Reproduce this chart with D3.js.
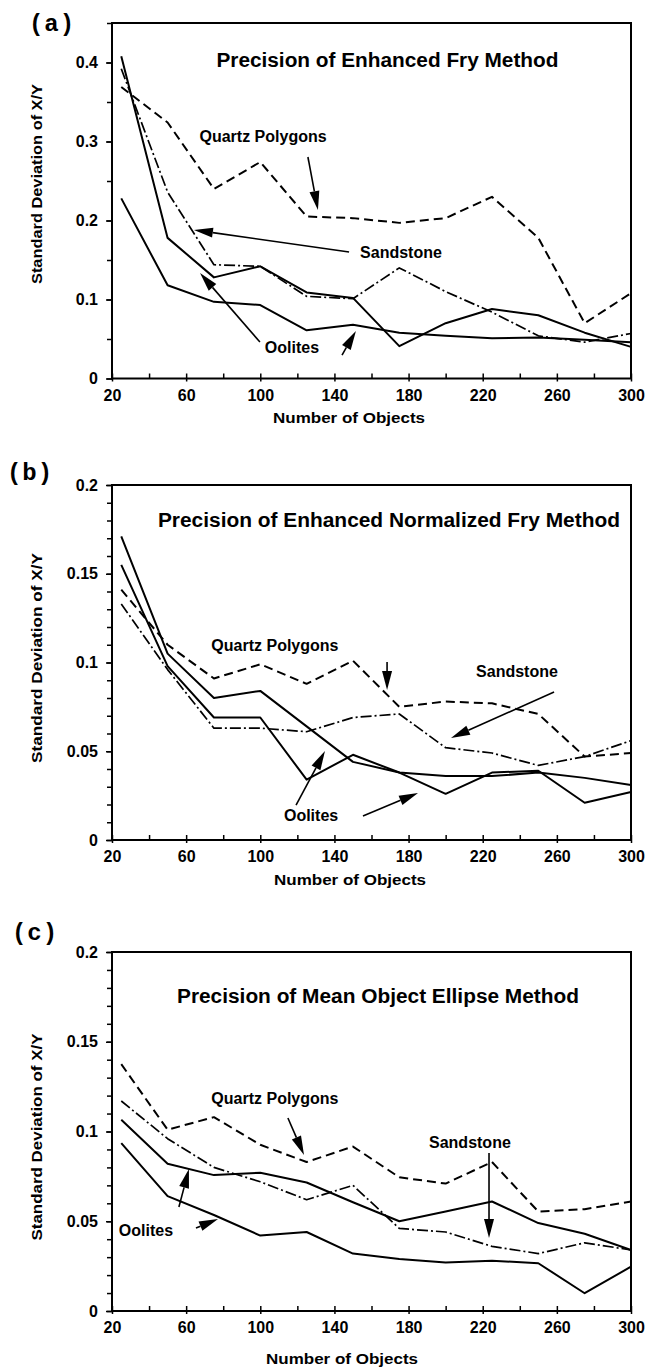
<!DOCTYPE html>
<html><head><meta charset="utf-8">
<script src="https://cdn.jsdelivr.net/npm/d3@7"></script>
<style>body{margin:0;background:#fff}svg{display:block}</style>
</head><body>
<svg id="chart" width="647" height="1368"></svg>
<script>
// ---------- data ----------
const xValues = [25, 50, 75, 100, 125, 150, 175, 200, 225, 250, 275, 300];
const xTickValues = [20, 40, 60, 80, 100, 120, 140, 160, 180, 200, 220, 240, 260, 280, 300];
const xTickLabels = [20, 60, 100, 140, 180, 220, 260, 300];

// (a) Enhanced Fry
const fryQuartz    = [0.369, 0.324, 0.240, 0.274, 0.205, 0.203, 0.197, 0.203, 0.230, 0.178, 0.070, 0.108];
const frySandstone = [0.392, 0.236, 0.144, 0.142, 0.104, 0.101, 0.140, 0.110, 0.084, 0.054, 0.046, 0.057];
const fryOolitesA  = [0.408, 0.178, 0.128, 0.142, 0.109, 0.102, 0.041, 0.070, 0.088, 0.080, 0.058, 0.040];
const fryOolitesB  = [0.228, 0.118, 0.097, 0.093, 0.061, 0.068, 0.058, 0.054, 0.051, 0.052, 0.049, 0.046];

// (b) Enhanced Normalized Fry
const normQuartz    = [0.141, 0.110, 0.091, 0.099, 0.088, 0.101, 0.075, 0.078, 0.077, 0.071, 0.047, 0.049];
const normSandstone = [0.133, 0.096, 0.063, 0.063, 0.061, 0.069, 0.071, 0.052, 0.049, 0.042, 0.047, 0.056];
const normOolitesA  = [0.171, 0.105, 0.080, 0.084, 0.064, 0.044, 0.038, 0.026, 0.038, 0.039, 0.021, 0.027];
const normOolitesB  = [0.155, 0.098, 0.069, 0.069, 0.034, 0.048, 0.038, 0.036, 0.036, 0.038, 0.035, 0.031];

// (c) Mean Object Ellipse
const ellQuartz    = [0.1375, 0.101, 0.108, 0.0926, 0.083, 0.0916, 0.0745, 0.071, 0.083, 0.0554, 0.0567, 0.061];
const ellSandstone = [0.117, 0.096, 0.080, 0.072, 0.062, 0.070, 0.046, 0.044, 0.036, 0.032, 0.038, 0.034];
const ellOolitesA  = [0.1065, 0.082, 0.0757, 0.077, 0.0716, 0.0606, 0.050, 0.0554, 0.061, 0.049, 0.043, 0.034];
const ellOolitesB  = [0.0935, 0.064, 0.0535, 0.042, 0.044, 0.032, 0.029, 0.027, 0.028, 0.0266, 0.0099, 0.0247];

const yLabelsA = [0, 0.1, 0.2, 0.3, 0.4];
const yLabelsBC = [0, 0.05, 0.1, 0.15, 0.2];

const titles = ["Precision of Enhanced Fry Method",
                "Precision of Enhanced Normalized Fry Method",
                "Precision of Mean Object Ellipse Method"];
const panelTags = ["(a)", "(b)", "(c)"];
const xAxisTitle = "Number of Objects";
const yAxisTitle = "Standard Deviation of X/Y";

// ---------- layout / styles ----------
const FONT = "'Liberation Sans', Arial, Helvetica, sans-serif";
const svg = d3.select("#chart");
const x = d3.scaleLinear().domain([20, 300]).range([112, 631]);

const styleQuartz = {w: 2.0, dash: "9,5"};
const styleSand   = {w: 1.7, dash: "11,3,2,3"};
const styleOol    = {w: 2.0, dash: null};

const panels = [
  { top: 23, bottom: 378.5, yMax: 0.45, labels: yLabelsA, minorStep: 0.05,
    series: [[fryQuartz, styleQuartz], [frySandstone, styleSand], [fryOolitesA, styleOol], [fryOolitesB, styleOol]],
    title: {x: 168.6, y: 0.3947, len: 342},
    tag: {px: 52, py: 31},
    ylab: {py: 184, len: 200},
    xlab: {px: 349, off: 44.5},
    texts: [
      {t: "Quartz Polygons", x: 101.5, y: 0.2997},
      {t: "Sandstone", x: 175.9, y: 0.1525},
      {t: "Oolites", x: 117.1, y: 0.0323}
    ],
    arrows: [
      [125.7, 0.2804, 131.1, 0.2133],
      [147.9, 0.1601, 64.2, 0.1880],
      [99.8, 0.0462, 67.5, 0.1335],
      [144.1, 0.0297, 151.6, 0.0601]
    ]
  },
  { top: 485, bottom: 840, yMax: 0.2, labels: yLabelsBC, minorStep: 0.01,
    series: [[normQuartz, styleQuartz], [normSandstone, styleSand], [normOolitesA, styleOol], [normOolitesB, styleOol]],
    title: {x: 169.4, y: 0.1763, len: 462},
    tag: {px: 30, py: 480},
    ylab: {py: 658, len: 210},
    xlab: {px: 350, off: 45},
    texts: [
      {t: "Quartz Polygons", x: 107.9, y: 0.1065},
      {t: "Sandstone", x: 238.5, y: 0.0918},
      {t: "Oolites", x: 127.4, y: 0.0107}
    ],
    arrows: [
      [168.4, 0.1003, 168.4, 0.0845],
      [258.5, 0.0834, 202.9, 0.0575],
      [119.3, 0.0197, 134.9, 0.0501],
      [155.4, 0.0135, 185.1, 0.0265]
    ]
  },
  { top: 952, bottom: 1311, yMax: 0.2, labels: yLabelsBC, minorStep: 0.01,
    series: [[ellQuartz, styleQuartz], [ellSandstone, styleSand], [ellOolitesA, styleOol], [ellOolitesB, styleOol]],
    title: {x: 163.5, y: 0.1716, len: 402},
    tag: {px: 35, py: 940},
    ylab: {py: 1137, len: 207},
    xlab: {px: 342, off: 53},
    texts: [
      {t: "Quartz Polygons", x: 107.9, y: 0.1153},
      {t: "Sandstone", x: 213.1, y: 0.0908},
      {t: "Oolites", x: 38.3, y: 0.0418}
    ],
    arrows: [
      [114.9, 0.1075, 123.6, 0.0869],
      [223.4, 0.0880, 223.4, 0.0407],
      [56.1, 0.0579, 61.5, 0.0791],
      [65.3, 0.0462, 77.2, 0.0513]
    ]
  }
];

function drawArrow(g, x1, y1, x2, y2) {
  const dx = x2 - x1, dy = y2 - y1, L = Math.hypot(dx, dy);
  const ux = dx / L, uy = dy / L;
  const hl = Math.min(19, L), hw = 5;
  const bx = x2 - ux * hl, by = y2 - uy * hl;
  if (L > hl + 0.5) {
    g.append("line").attr("x1", x1).attr("y1", y1).attr("x2", bx).attr("y2", by)
      .attr("stroke", "#000").attr("stroke-width", 1.6);
  }
  g.append("path")
    .attr("d", `M${x2},${y2}L${bx - uy * hw},${by + ux * hw}L${bx + uy * hw},${by - ux * hw}Z`)
    .attr("fill", "#000");
}

panels.forEach((p, pi) => {
  const y = d3.scaleLinear().domain([0, p.yMax]).range([p.bottom, p.top]);
  const g = svg.append("g");

  // series lines
  const line = d3.line().x((d, i) => x(xValues[i])).y(d => y(d));
  p.series.forEach(([vals, st]) => {
    g.append("path").attr("d", line(vals)).attr("fill", "none")
      .attr("stroke", "#000").attr("stroke-width", st.w)
      .attr("stroke-dasharray", st.dash).attr("stroke-linejoin", "round");
  });

  // frame
  g.append("rect").attr("x", x(20)).attr("y", y(p.yMax))
    .attr("width", x(300) - x(20)).attr("height", y(0) - y(p.yMax))
    .attr("fill", "none").attr("stroke", "#000").attr("stroke-width", 2);

  // y axis minor + major ticks
  const minor = d3.range(0, p.yMax + 1e-9, p.minorStep);
  const yMinorAxis = d3.axisLeft(y).tickValues(minor).tickSize(5).tickFormat("");
  const ya = g.append("g").attr("transform", `translate(${x(20)},0)`).call(yMinorAxis);
  ya.select(".domain").remove();
  ya.selectAll("line").attr("stroke-width", 1.5);

  const yMajorAxis = d3.axisLeft(y).tickValues(p.labels).tickSize(6).tickPadding(8)
    .tickFormat(d => d === 0 ? "0" : String(d));
  const yb = g.append("g").attr("transform", `translate(${x(20)},0)`).call(yMajorAxis);
  yb.select(".domain").remove();
  yb.selectAll("line").attr("stroke-width", 1.5);
  yb.selectAll("text").attr("font-family", FONT).attr("font-weight", "bold")
    .attr("font-size", 16).attr("fill", "#000");

  // x axis
  const xMinor = d3.axisBottom(x).tickValues(xTickValues).tickSize(-5).tickFormat("");
  const xa = g.append("g").attr("transform", `translate(0,${y(0)})`).call(xMinor);
  xa.select(".domain").remove();
  xa.selectAll("line").attr("stroke-width", 1.5);

  const xMajor = d3.axisBottom(x).tickValues(xTickLabels).tickSize(3).tickPadding(8)
    .tickFormat(d => String(d));
  const xb = g.append("g").attr("transform", `translate(0,${y(0)})`).call(xMajor);
  xb.select(".domain").remove();
  xb.selectAll("line").attr("stroke-width", 1.5);
  xb.selectAll("text").attr("font-family", FONT).attr("font-weight", "bold")
    .attr("font-size", 16).attr("fill", "#000");

  // axis titles
  g.append("text").attr("x", p.xlab.px).attr("y", y(0) + p.xlab.off)
    .attr("text-anchor", "middle").attr("font-family", FONT).attr("font-weight", "bold")
    .attr("font-size", 15).attr("textLength", 152).attr("lengthAdjust", "spacingAndGlyphs")
    .text(xAxisTitle);
  g.append("text").attr("transform", `translate(42,${p.ylab.py}) rotate(-90)`)
    .attr("text-anchor", "middle").attr("font-family", FONT).attr("font-weight", "bold")
    .attr("font-size", 15.5).attr("textLength", p.ylab.len).attr("lengthAdjust", "spacingAndGlyphs")
    .text(yAxisTitle);

  // panel tag
  g.append("text").attr("x", p.tag.px).attr("y", p.tag.py).attr("text-anchor", "middle")
    .attr("font-family", "'Liberation Mono', 'Courier New', monospace").attr("font-weight", "bold")
    .attr("font-size", 24).attr("letter-spacing", 1).text(panelTags[pi]);

  // title
  g.append("text").attr("x", x(p.title.x)).attr("y", y(p.title.y)).attr("text-anchor", "middle")
    .attr("font-family", FONT).attr("font-weight", "bold").attr("font-size", 20)
    .attr("textLength", p.title.len).attr("lengthAdjust", "spacingAndGlyphs")
    .text(titles[pi]);

  // annotation labels
  p.texts.forEach(t => {
    g.append("text").attr("x", x(t.x)).attr("y", y(t.y)).attr("text-anchor", "middle")
      .attr("font-family", FONT).attr("font-weight", "bold").attr("font-size", 16)
      .text(t.t);
  });

  // arrows
  p.arrows.forEach(a => drawArrow(g, x(a[0]), y(a[1]), x(a[2]), y(a[3])));
});
</script>
</body></html>
